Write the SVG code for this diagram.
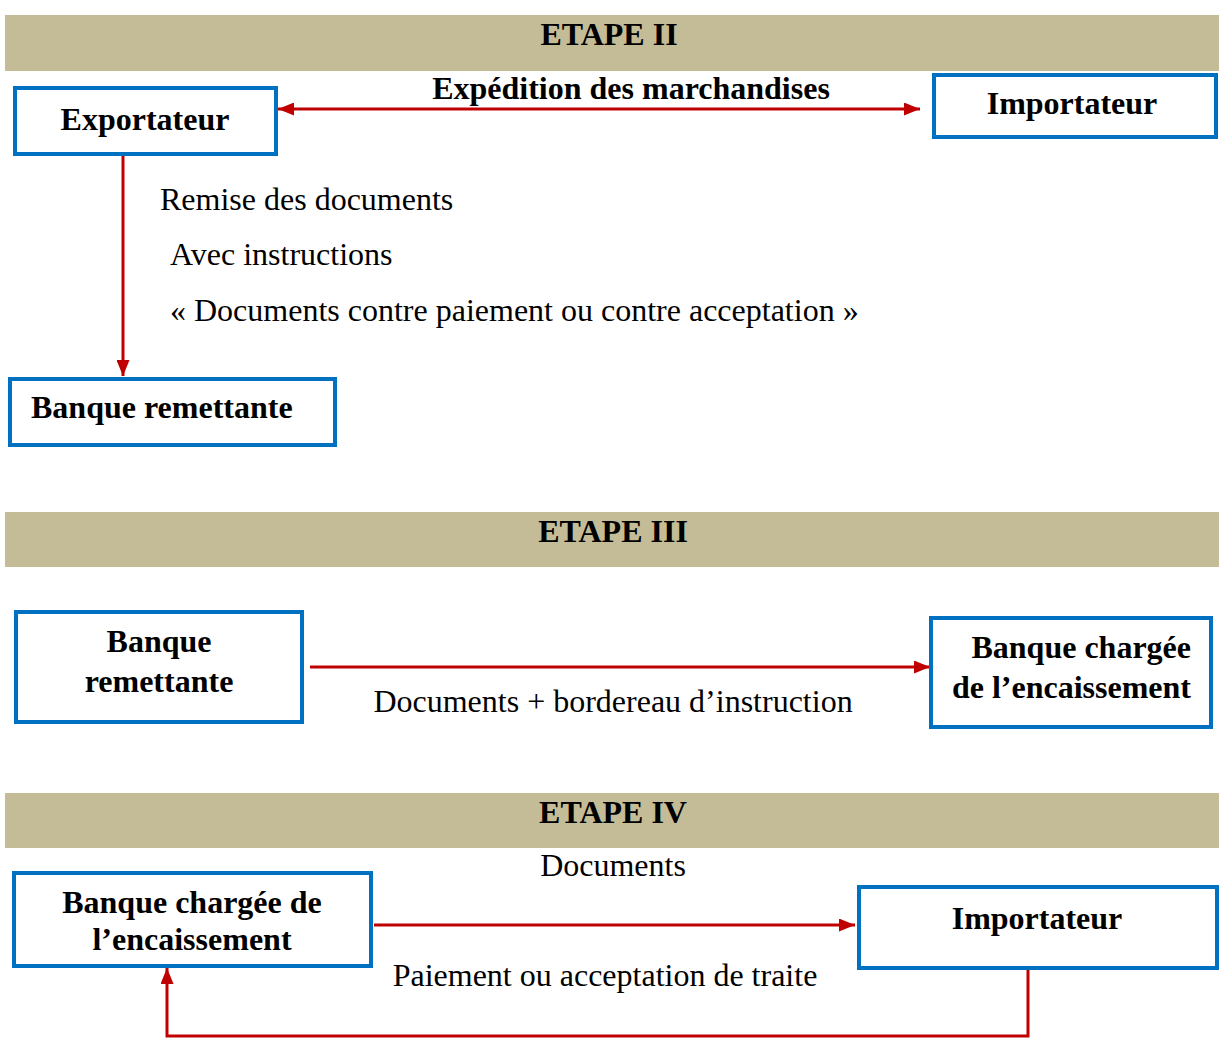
<svg xmlns="http://www.w3.org/2000/svg" width="1219" height="1038" viewBox="0 0 1219 1038">
  <style>
    .band { fill: #c4bc97; }
    .box { fill: #ffffff; stroke: #0070c0; stroke-width: 4; }
    .t { font-family: "Liberation Serif", "Times New Roman", serif; font-size: 32px; fill: #000000; }
    .b { font-weight: bold; }
    .link { fill: none; stroke: #c00000; stroke-width: 3; }
  </style>
  <defs>
    <marker id="head" viewBox="0 0 16 13" refX="16" refY="6.5" markerWidth="16" markerHeight="13" markerUnits="userSpaceOnUse" orient="auto-start-reverse">
      <path d="M0,0 L16,6.5 L0,13 Z" fill="#c00000"/>
    </marker>
  </defs>

  <!-- step headers -->
  <g id="etape2">
    <rect class="band" x="5" y="15" width="1214" height="56"/>
    <text class="t b" x="609" y="45" text-anchor="middle">ETAPE II</text>
  </g>
  <g id="etape3">
    <rect class="band" x="5" y="512" width="1214" height="55"/>
    <text class="t b" x="613" y="542" text-anchor="middle">ETAPE III</text>
  </g>
  <g id="etape4">
    <rect class="band" x="5" y="793" width="1214" height="55"/>
    <text class="t b" x="613" y="823" text-anchor="middle">ETAPE IV</text>
  </g>

  <!-- connectors -->
  <g id="connectors">
    <line class="link" x1="278" y1="109" x2="920" y2="109" marker-start="url(#head)" marker-end="url(#head)"/>
    <line class="link" x1="123" y1="156" x2="123" y2="376" marker-end="url(#head)"/>
    <line class="link" x1="310" y1="667" x2="930" y2="667" marker-end="url(#head)"/>
    <line class="link" x1="374" y1="925" x2="855" y2="925" marker-end="url(#head)"/>
    <polyline class="link" points="1028,970 1028,1036 167,1036 167,968" marker-end="url(#head)"/>
  </g>

  <!-- connector labels -->
  <g id="labels">
    <text class="t b" x="631" y="99" text-anchor="middle">Expédition des marchandises</text>
    <text class="t" x="160" y="210">Remise des documents</text>
    <text class="t" x="170" y="265">Avec instructions</text>
    <text class="t" x="170" y="321">« Documents contre paiement ou contre acceptation »</text>
    <text class="t" x="613" y="712" text-anchor="middle">Documents + bordereau d’instruction</text>
    <text class="t" x="613" y="876" text-anchor="middle">Documents</text>
    <text class="t" x="605" y="986" text-anchor="middle">Paiement ou acceptation de traite</text>
  </g>

  <!-- step II nodes -->
  <g id="exportateur">
    <rect class="box" x="15" y="88" width="261" height="66"/>
    <text class="t b" x="145" y="130" text-anchor="middle">Exportateur</text>
  </g>
  <g id="importateur-2">
    <rect class="box" x="934" y="75" width="282" height="62"/>
    <text class="t b" x="1072" y="114" text-anchor="middle">Importateur</text>
  </g>
  <g id="banque-remettante-2">
    <rect class="box" x="10" y="379" width="325" height="66"/>
    <text class="t b" x="31" y="418">Banque remettante</text>
  </g>

  <!-- step III nodes -->
  <g id="banque-remettante-3">
    <rect class="box" x="16" y="612" width="286" height="110"/>
    <text class="t b" x="159" y="652" text-anchor="middle">Banque</text>
    <text class="t b" x="159" y="692" text-anchor="middle">remettante</text>
  </g>
  <g id="banque-chargee-3">
    <rect class="box" x="931" y="618" width="280" height="109"/>
    <text class="t b" x="1191" y="658" text-anchor="end">Banque chargée</text>
    <text class="t b" x="1191" y="698" text-anchor="end">de l’encaissement</text>
  </g>

  <!-- step IV nodes -->
  <g id="banque-chargee-4">
    <rect class="box" x="14" y="873" width="357" height="93"/>
    <text class="t b" x="192" y="913" text-anchor="middle">Banque chargée de</text>
    <text class="t b" x="192" y="950" text-anchor="middle">l’encaissement</text>
  </g>
  <g id="importateur-4">
    <rect class="box" x="859" y="887" width="358" height="81"/>
    <text class="t b" x="1037" y="929" text-anchor="middle">Importateur</text>
  </g>
</svg>
